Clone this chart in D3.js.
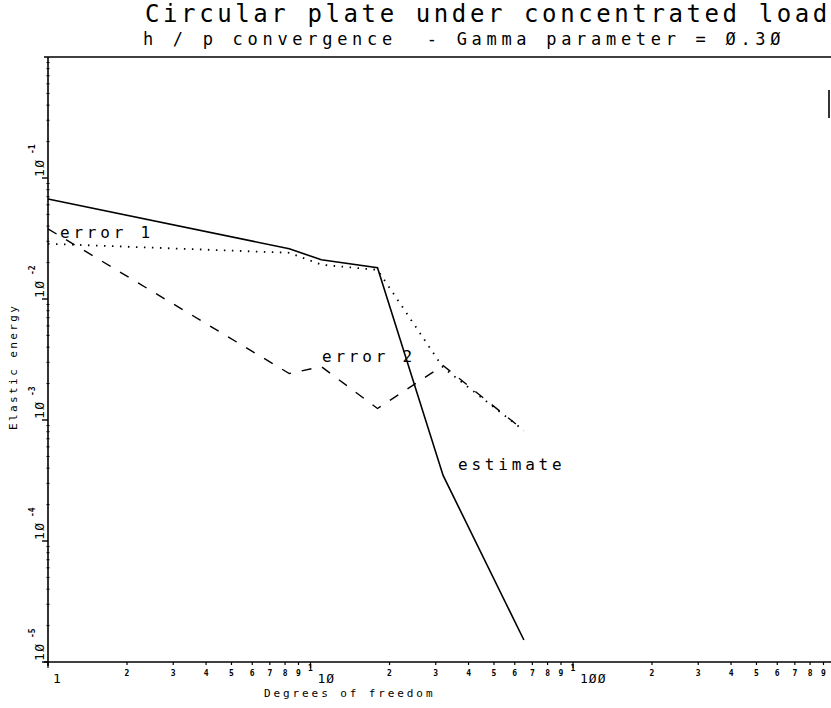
<!DOCTYPE html>
<html>
<head>
<meta charset="utf-8">
<script src="https://cdn.jsdelivr.net/npm/d3@7"></script>
<style>
  html, body { margin: 0; padding: 0; background: #fff; }
  svg { display: block; }
  text { font-family: "DejaVu Sans Mono", "Liberation Mono", monospace; fill: #000; white-space: pre; }
</style>
</head>
<body>
<svg id="chart" width="831" height="708"></svg>
<script>
// ---- data ----
const dof       = [1, 8.3, 11, 18, 32, 65];
const estimate  = [0.0671, 0.0260, 0.0211, 0.0181, 3.48e-4, 1.52e-5];
const error1    = [0.0286, 0.0241, 0.0192, 0.0174, 2.71e-3, 8.19e-4];
const error2    = [0.0380, 2.42e-3, 2.76e-3, 1.245e-3, 2.82e-3, 8.19e-4];
const xDecades  = [1, 10, 100];
const xDecadeLabels = ["1", "1Ø", "1ØØ"];
const yDecades  = [1e-1, 1e-2, 1e-3, 1e-4, 1e-5];
const yDecadeExp = ["-1", "-2", "-3", "-4", "-5"];
const titleText = "Circular plate under concentrated load";
const subtitleText = "h / p convergence  - Gamma parameter = Ø.3Ø";
const xTitle = "Degrees of freedom";
const yTitle = "Elastic energy";

const svg = d3.select("#chart");
const x = d3.scaleLog().domain([1, 1000]).range([48, 835.5]);
const y = d3.scaleLog().domain([1e-5, 1]).range([662, 57]);

// titles
svg.append("text").attr("x", 145).attr("y", 22)
  .style("font-size", "24px").style("letter-spacing", "3.6px").text(titleText);
svg.append("text").attr("x", 143).attr("y", 45)
  .style("font-size", "17px").style("letter-spacing", "4.7px").text(subtitleText);

// frame
const frame = svg.append("g").attr("stroke", "#000").attr("stroke-width", 1.6).attr("fill", "none");
frame.append("line").attr("x1", 44).attr("x2", 831).attr("y1", y(1)).attr("y2", y(1));
frame.append("line").attr("x1", x(1)).attr("x2", x(1)).attr("y1", y(1)).attr("y2", 666);
frame.append("line").attr("x1", 44).attr("x2", 831).attr("y1", y(1e-5)).attr("y2", y(1e-5));
frame.append("line").attr("x1", 829).attr("x2", 829).attr("y1", 90).attr("y2", 118);

// x ticks
const xTicks = [];
for (const d of xDecades) for (let k = 1; k <= 9; k++) { const v = d * k; if (v < 1000) xTicks.push({v, k}); }
const xt = svg.append("g");
xt.selectAll("line").data(xTicks).join("line")
  .attr("x1", d => x(d.v)).attr("x2", d => x(d.v))
  .attr("y1", y(1e-5)).attr("y2", d => y(1e-5) + (d.k === 1 ? 6 : 3))
  .attr("stroke", "#000").attr("stroke-width", 1.2);
xt.selectAll("text.minor").data(xTicks.filter(d => d.v > 1)).join("text").attr("class", "minor")
  .attr("x", d => x(d.v)).attr("y", d => d.k === 1 ? 671 : 676)
  .attr("text-anchor", "middle").style("font-size", "8px").style("font-weight", "bold")
  .text(d => d.k);
xt.selectAll("text.major").data(xDecades).join("text").attr("class", "major")
  .attr("x", d => x(d) + (d === 1 ? 5 : 7)).attr("y", 683)
  .style("font-size", "13px").style("letter-spacing", "1px")
  .text((d, i) => xDecadeLabels[i]);

// y ticks
const yt = svg.append("g");
const yMinor = [];
for (const d of yDecades) for (let k = 2; k <= 9; k++) { const v = d * k; if (v < 1) yMinor.push(v); }
yt.selectAll("line.minor").data(yMinor).join("line").attr("class", "minor")
  .attr("x1", x(1) - 1.5).attr("x2", x(1) + 1.5).attr("y1", d => y(d)).attr("y2", d => y(d))
  .attr("stroke", "#000").attr("stroke-width", 1);
yt.selectAll("line.major").data(yDecades).join("line").attr("class", "major")
  .attr("x1", x(1) - 6).attr("x2", x(1)).attr("y1", d => y(d)).attr("y2", d => y(d))
  .attr("stroke", "#000").attr("stroke-width", 1.4);
const yl = yt.selectAll("g.lab").data(yDecades).join("g").attr("class", "lab")
  .attr("transform", d => `translate(44,${y(d) - 1}) rotate(-90)`);
yl.append("text").attr("x", 0).attr("y", 0)
  .style("font-size", "13px").style("letter-spacing", "1.5px").text("1Ø");
yl.append("text").attr("x", 23).attr("y", -9)
  .style("font-size", "8px").style("font-weight", "bold").text((d, i) => yDecadeExp[i]);

// axis titles
svg.append("text").attr("x", 264).attr("y", 697)
  .style("font-size", "11px").style("letter-spacing", "2.9px").text(xTitle);
svg.append("text").attr("transform", "translate(17,430) rotate(-90)")
  .style("font-size", "11px").style("letter-spacing", "2.4px").text(yTitle);

// lines
const line = d3.line().x(d => x(d[0])).y(d => y(d[1]));
const plot = svg.append("g").attr("fill", "none").attr("stroke", "#000");
plot.append("path").datum(dof.map((d, i) => [d, estimate[i]]))
  .attr("d", line).attr("stroke-width", 1.6);
plot.append("path").datum(dof.map((d, i) => [d, error1[i]]))
  .attr("d", line).attr("stroke-width", 1.8).attr("stroke-dasharray", "1.5,6.5");
plot.append("path").datum(dof.map((d, i) => [d, error2[i]]))
  .attr("d", line).attr("stroke-width", 1.4).attr("stroke-dasharray", "10,11");

// series labels
const lab = svg.append("g").style("font-size", "16px").style("letter-spacing", "3.8px");
lab.append("text").attr("x", 60).attr("y", 238).text("error 1");
lab.append("text").attr("x", 322).attr("y", 362).text("error 2");
lab.append("text").attr("x", 458).attr("y", 470).text("estimate");
</script>
</body>
</html>
